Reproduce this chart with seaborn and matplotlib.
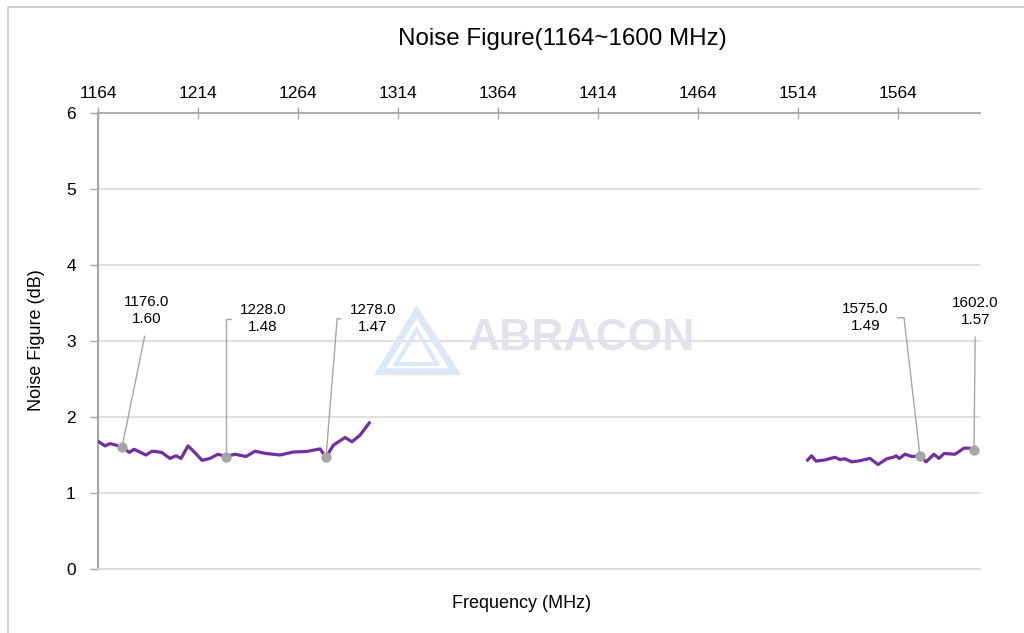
import numpy as np
import pandas as pd
import seaborn as sns
import matplotlib
matplotlib.use("Agg")
import matplotlib.pyplot as plt
from matplotlib.patches import Rectangle, Polygon

# ---------------- data ----------------
seg1_freq = [1164, 1167.5, 1170, 1173, 1176, 1179.7, 1182, 1188, 1191, 1195.8,
             1200, 1203, 1205.5, 1209, 1212.5, 1216, 1220, 1224, 1228, 1232.5,
             1238, 1242.5, 1248, 1255, 1261.7, 1268, 1275, 1278, 1281.7, 1287.5,
             1291, 1295, 1299.7]
seg1_nf = [1.68, 1.62, 1.65, 1.63, 1.60, 1.535, 1.575, 1.50, 1.55, 1.535,
           1.455, 1.49, 1.455, 1.62, 1.53, 1.43, 1.455, 1.51, 1.48, 1.51,
           1.48, 1.55, 1.52, 1.50, 1.54, 1.545, 1.58, 1.47, 1.63, 1.73,
           1.675, 1.76, 1.925]

seg2_freq = [1518.7, 1520.8, 1523, 1527.5, 1532.5, 1535, 1537.5, 1540.8, 1544,
             1550, 1554, 1558.3, 1561.7, 1563, 1564.7, 1567.5, 1571, 1575,
             1578, 1582, 1584.5, 1587, 1592.5, 1597, 1599.5, 1602]
seg2_nf = [1.43, 1.49, 1.42, 1.435, 1.47, 1.44, 1.45, 1.41, 1.42,
           1.455, 1.375, 1.45, 1.47, 1.49, 1.455, 1.51, 1.48, 1.49,
           1.41, 1.51, 1.455, 1.52, 1.51, 1.59, 1.59, 1.57]

marker_freq = [1176, 1228, 1278, 1575, 1602]
marker_nf = [1.60, 1.48, 1.47, 1.49, 1.57]

x_ticks = [1164, 1214, 1264, 1314, 1364, 1414, 1464, 1514, 1564]
y_ticks = [0, 1, 2, 3, 4, 5, 6]

title = "Noise Figure(1164~1600 MHz)"
x_label = "Frequency (MHz)"
y_label = "Noise Figure (dB)"
watermark = "ABRACON"

# ---------------- style ----------------
sns.set_theme(style="white")
plt.rcParams["font.family"] = ["Liberation Sans", "DejaVu Sans"]

W, H = 1024, 633
fig = plt.figure(figsize=(W / 100, H / 100), dpi=100)
ax = fig.add_axes([98 / W, 1 - 569 / H, (980 - 98) / W, (569 - 113) / H])

LINE = "#7030a0"
AXC = "#a6a6a6"
GRID = "#d9d9d9"

# watermark (behind the data)
fig.text(582 / W, 1 - 339 / H, watermark, fontsize=32, fontweight="bold",
         color="#e0e3e9", ha="center", va="center", zorder=0)
logo_outer = np.array([[416.7, 311.7], [380, 371.7], [455, 371.7]])
logo_inner = np.array([[416.7, 330], [396, 364], [437, 364]])
for pts, lw in ((logo_outer, 5), (logo_inner, 3)):
    px = np.column_stack([pts[:, 0] / W, 1 - pts[:, 1] / H])
    fig.patches.append(Polygon(px, closed=True, fill=False, edgecolor="#dde8f7",
                               lw=lw, transform=fig.transFigure, zorder=0))

ax.set_facecolor("none")

df1 = pd.DataFrame({"freq": seg1_freq, "nf": seg1_nf})
df2 = pd.DataFrame({"freq": seg2_freq, "nf": seg2_nf})
for d in (df1, df2):
    sns.lineplot(data=d, x="freq", y="nf", ax=ax, color=LINE, lw=2.3,
                 sort=False, estimator=None, zorder=3)

sns.scatterplot(x=marker_freq, y=marker_nf, ax=ax, color=AXC, s=55,
                edgecolor=AXC, linewidth=0, zorder=4)

# annotation layout (pixel offsets of text centre from the marker)
offsets = [(24.7, 137), (37, 138), (46.7, 138.5), (-54.7, 138), (1.3, 138.5)]
conns = ["arc3,rad=0",
         "angle,angleA=0,angleB=90,rad=0",
         "angle,angleA=0,angleB=85.4,rad=0",
         "angle,angleA=0,angleB=96.6,rad=0",
         "arc3,rad=0"]
relpos = [(0.5, 0.0), (0.0, 0.5), (0.0, 0.5), (1.0, 0.5), (0.5, 0.0)]
shrinkA = [5, 4, 4, 4, 5]
for f, v, off, cs, rp, sa in zip(marker_freq, marker_nf, offsets, conns, relpos, shrinkA):
    ax.annotate(f"{f:.1f}\n{v:.2f}", xy=(f, v), xytext=off,
                textcoords="offset pixels", ha="center", va="center",
                multialignment="center", fontsize=11, color="#000000",
                linespacing=1.3,
                arrowprops=dict(arrowstyle="-", color=AXC, lw=1.0,
                                connectionstyle=cs, relpos=rp,
                                shrinkA=sa, shrinkB=0),
                zorder=5)

# axes
ax.set_xlim(1164, 1605)
ax.set_ylim(0, 6)
ax.set_xticks(x_ticks)
ax.set_yticks(y_ticks)
ax.xaxis.tick_top()
ax.xaxis.set_label_position("bottom")
ax.yaxis.grid(True, color=GRID, lw=1.2)
ax.xaxis.grid(False)

ax.spines["right"].set_visible(False)
ax.spines["top"].set_color(AXC)
ax.spines["top"].set_linewidth(1.3)
ax.spines["left"].set_color(AXC)
ax.spines["left"].set_linewidth(1.5)
ax.spines["bottom"].set_color(GRID)
ax.spines["bottom"].set_linewidth(1.2)

ax.tick_params(axis="x", which="both", top=True, bottom=False, direction="inout",
               length=8, width=1, color=AXC, labelsize=12.5, pad=5,
               labelcolor="#000000", labeltop=True, labelbottom=False)
ax.tick_params(axis="y", left=True, direction="out", length=6, width=1,
               color=AXC, labelsize=12.5, pad=10, labelcolor="#000000")

ax.set_xlabel(x_label, fontsize=13, color="#000000")
ax.set_ylabel(y_label, fontsize=13, color="#000000")
ax.xaxis.set_label_coords(0.480, -0.056)
ax.yaxis.set_label_coords(-0.06, 0.502)

fig.text(562 / W, 1 - 39 / H, title, fontsize=17.4, ha="center", va="center",
         color="#000000")

# outer chart frame (cut by figure edges at right/bottom)
fig.patches.append(Rectangle((7.5 / W, -0.1), 1.2, (1 - 7.5 / H) + 0.1,
                             transform=fig.transFigure, fill=False,
                             edgecolor="#c8c8c8", lw=1.2, zorder=0))

fig.savefig("out.png", dpi=100)
